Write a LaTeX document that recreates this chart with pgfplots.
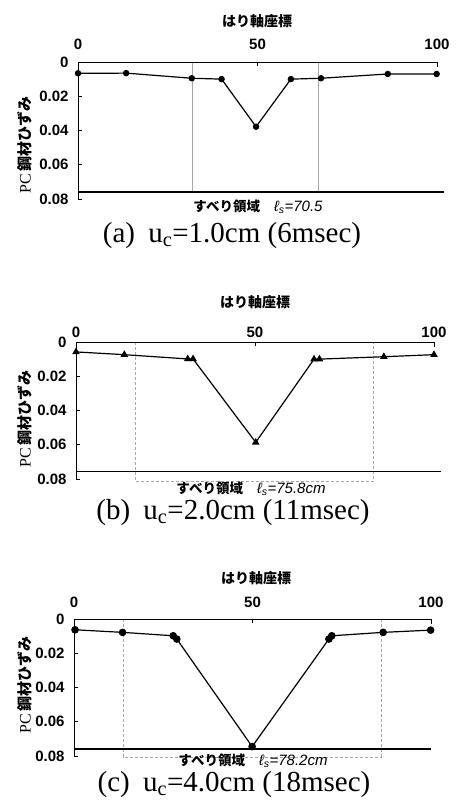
\documentclass[border=0pt]{standalone}
\usepackage{fontspec}
\setmainfont{Liberation Serif}
\setsansfont{Liberation Sans}
\newfontfamily\jp{Noto Sans CJK JP}
\usepackage{pgfplots}
\pgfplotsset{compat=1.18}

\pgfplotsset{
  beam/.style={
    scale only axis, height=137pt,
    xmin=0, xmax=100, ymin=0, ymax=0.08, y dir=reverse,
    clip=false, axis line style={draw=none},
    xtick={0,50,100}, ytick={0,0.02,0.04,0.06,0.08},
    xtick pos=upper, xticklabel pos=upper,
    ytick pos=left, yticklabel pos=left,
    tick align=inside, major tick length=4pt,
    tick style={black, line width=0.7pt},
    scaled y ticks=false,
    /pgf/number format/assume math mode=true,
    yticklabel style={/pgf/number format/fixed, /pgf/number format/precision=2, xshift=-6pt},
    ticklabel style={font=\fontsize{15}{15}\sffamily\bfseries\selectfont},
    anchor=north west,
  },
  frame/.style={black, line width=0.9pt, forget plot},
  base/.style={black, line width=1.8pt, forget plot},
  zone/.style={gray!70, line width=0.6pt, densely dashed, forget plot},
  data/.style={black, line width=1.2pt},
}
\newcommand{\jplab}{\fontsize{14}{14}\jp\bfseries}
\newcommand{\ylab}{\fontsize{16}{16}\selectfont PC\,{\fontsize{15}{15}\jp\bfseries 鋼材ひずみ}}
\newcommand{\zonelab}[1]{{\fontsize{13.5}{13.5}\jp\bfseries すべり領域}\hspace{14pt}{\fontsize{15}{15}\sffamily\itshape ℓ\textsubscript{s}=#1}}
\newcommand{\panelcap}[3]{\fontsize{29}{29}\selectfont (#1)\hspace{6pt} u\textsubscript{c}=#2cm (#3msec)}

\begin{document}
\begin{tikzpicture}
\useasboundingbox (0pt,0pt) rectangle (455pt,808pt);

% ---------- (a) ----------
\begin{axis}[beam, at={(78pt,746pt)}, width=359pt, xticklabel style={yshift=9pt}]
\addplot[zone, solid] coordinates {(31.9,0) (31.9,0.076)};
\addplot[zone, solid] coordinates {(67,0) (67,0.076)};
\addplot[frame] coordinates {(0,0.08) (0,0) (100,0) (100,0.003)};
\addplot[base] coordinates {(0,0.076) (102,0.076)};
\addplot[data, mark=*, mark size=2.6pt] coordinates {
 (0,0.0066) (13.4,0.0065) (31.7,0.0095) (40,0.010) (49.6,0.0378)
 (59.3,0.010) (67.7,0.0095) (86.3,0.007) (99.9,0.007)};
\end{axis}
\node at (257pt,787pt) {\jplab はり軸座標};
\node[rotate=90] at (25pt,663pt) {\ylab};
\node at (258pt,601pt) {\zonelab{70.5}};
\node at (232pt,572pt) {\panelcap{a}{1.0}{6}};

% ---------- (b) ----------
\begin{axis}[beam, at={(76pt,466pt)}, width=358pt, xticklabel style={yshift=1pt}]
\addplot[zone] coordinates {(16.5,0) (16.5,0.0813) (83,0.0813) (83,0)};
\addplot[frame] coordinates {(0,0.08) (0,0) (100,0) (100,0.003)};
\addplot[base] coordinates {(0,0.0756) (102,0.0756)};
\addplot[data, mark=triangle*, mark size=3.2pt] coordinates {
 (0,0.0058) (13.5,0.0074) (31.2,0.0099) (32.7,0.0099) (50.2,0.0586)
 (66.5,0.010) (68,0.010) (86,0.0086) (100,0.0074)};
\end{axis}
\node at (255pt,506pt) {\jplab はり軸座標};
\node[rotate=90] at (25pt,389pt) {\ylab};
\node at (251pt,319pt) {\zonelab{75.8cm}};
\node at (233pt,295pt) {\panelcap{b}{2.0}{11}};

% ---------- (c) ----------
\begin{axis}[beam, at={(74pt,189pt)}, width=357pt, xticklabel style={yshift=7.5pt}]
\addplot[zone] coordinates {(13.8,0) (13.8,0.0805) (86,0.0805) (86,0)};
\addplot[frame] coordinates {(0,0.08) (0,0) (100,0) (100,0.003)};
\addplot[base] coordinates {(0,0.0759) (100,0.0759)};
\addplot[data, mark=*, mark size=3.2pt] coordinates {
 (0.3,0.0063) (13.6,0.0078) (27.8,0.0098) (28.8,0.0117) (49.9,0.0745)
 (71.4,0.0117) (72.2,0.0098) (86.6,0.0078) (99.9,0.0065)};
\end{axis}
\node at (256pt,230pt) {\jplab はり軸座標};
\node[rotate=90] at (25pt,123pt) {\ylab};
\node at (253pt,47pt) {\zonelab{78.2cm}};
\node at (234pt,23pt) {\panelcap{c}{4.0}{18}};
\end{tikzpicture}
\end{document}
